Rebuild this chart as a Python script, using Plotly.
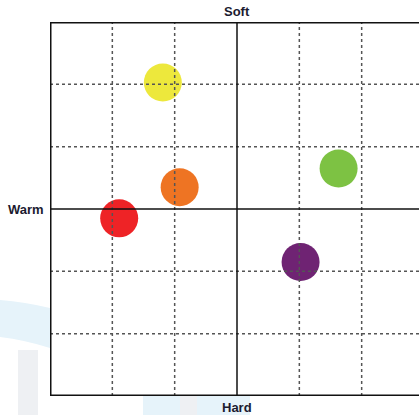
import plotly.graph_objects as go

# positions in grid-cell units, centre of the chart = (0, 0)
NAMES = ["Yellow", "Orange", "Red", "Green", "Purple"]
X_VALS = [-1.19, -0.92, -1.89, 1.63, 1.02]
Y_VALS = [2.03, 0.35, -0.15, 0.65, -0.85]
COLORS = ["#EDE83C", "#EE7423", "#EE2326", "#7DC243", "#6F2373"]

GRID_TICKS = [-2, -1, 1, 2]
LABEL_TOP, LABEL_BOTTOM, LABEL_LEFT = "Soft", "Hard", "Warm"

W, H = 419, 415
M = dict(l=50, r=0, t=22, b=19)
PW, PH = W - M["l"] - M["r"], H - M["t"] - M["b"]
unit = PH / 6
x_max = -3 + PW / unit


def px(x):  # page pixel -> paper x
    return (x - M["l"]) / PW


def py(y):  # page pixel -> paper y
    return (M["t"] + PH - y) / PH


fig = go.Figure(go.Scatter(
    x=X_VALS, y=Y_VALS, mode="markers", text=NAMES,
    marker=dict(size=38, color=COLORS, line=dict(width=0), opacity=1),
    hoverinfo="text",
))

shapes = []
# faint watermark, only visible outside the plot frame
wm_blue, wm_grey = "#E6F3FA", "#EEF0F3"
shapes.append(dict(type="path", xref="paper", yref="paper", layer="below",
                   path=f"M {px(0)} {py(300)} Q {px(25)} {py(302)} {px(50)} {py(308)} "
                        f"L {px(50)} {py(348)} Q {px(25)} {py(340)} {px(0)} {py(337)} Z",
                   fillcolor=wm_blue, line=dict(width=0)))
for x0, x1, y0, col in [(18, 38, 350, wm_grey), (143, 180, 396, wm_blue),
                        (180, 197, 396, wm_grey), (197, 250, 396, wm_blue)]:
    shapes.append(dict(type="rect", xref="paper", yref="paper", layer="below",
                       x0=px(x0), x1=px(x1), y0=py(415), y1=py(y0),
                       fillcolor=col, line=dict(width=0)))

for t in GRID_TICKS:
    shapes.append(dict(type="line", x0=t, x1=t, y0=-3, y1=3,
                       line=dict(color="#555555", width=1.5, dash="dot")))
    shapes.append(dict(type="line", x0=-3, x1=x_max, y0=t, y1=t,
                       line=dict(color="#555555", width=1.5, dash="dot")))
shapes.append(dict(type="line", x0=0, x1=0, y0=-3, y1=3,
                   line=dict(color="#111111", width=1.5)))
shapes.append(dict(type="line", x0=-3, x1=x_max, y0=0, y1=0,
                   line=dict(color="#111111", width=1.5)))
# frame (right side is cut off)
for xs, ys in [((-3, -3), (-3, 3)), ((-3, x_max), (3, 3)), ((-3, x_max), (-3, -3))]:
    shapes.append(dict(type="line", x0=xs[0], x1=xs[1], y0=ys[0], y1=ys[1],
                       line=dict(color="#111111", width=3)))

lab_font = dict(family="Liberation Sans, Arial", size=13, color="#1B1B2F")
annotations = [
    dict(x=0, y=3, yshift=11, text=f"<b>{LABEL_TOP}</b>", showarrow=False,
         font=lab_font),
    dict(x=0, y=-3, yshift=-11, text=f"<b>{LABEL_BOTTOM}</b>", showarrow=False,
         font=lab_font),
    dict(x=-3, y=0, xshift=-24, text=f"<b>{LABEL_LEFT}</b>", showarrow=False,
         font=lab_font),
]

fig.update_layout(
    width=W, height=H, margin=M,
    paper_bgcolor="white", plot_bgcolor="white",
    showlegend=False,
    shapes=shapes, annotations=annotations,
    xaxis=dict(range=[-3, x_max], visible=False, fixedrange=True),
    yaxis=dict(range=[-3, 3], visible=False, fixedrange=True),
)

# drop the default 8px body margin so the figure fills the window exactly
fig.write_html("out.html", config={"displayModeBar": False},
               post_script="document.body.style.margin='0';"
                           "document.body.style.overflow='hidden';")
